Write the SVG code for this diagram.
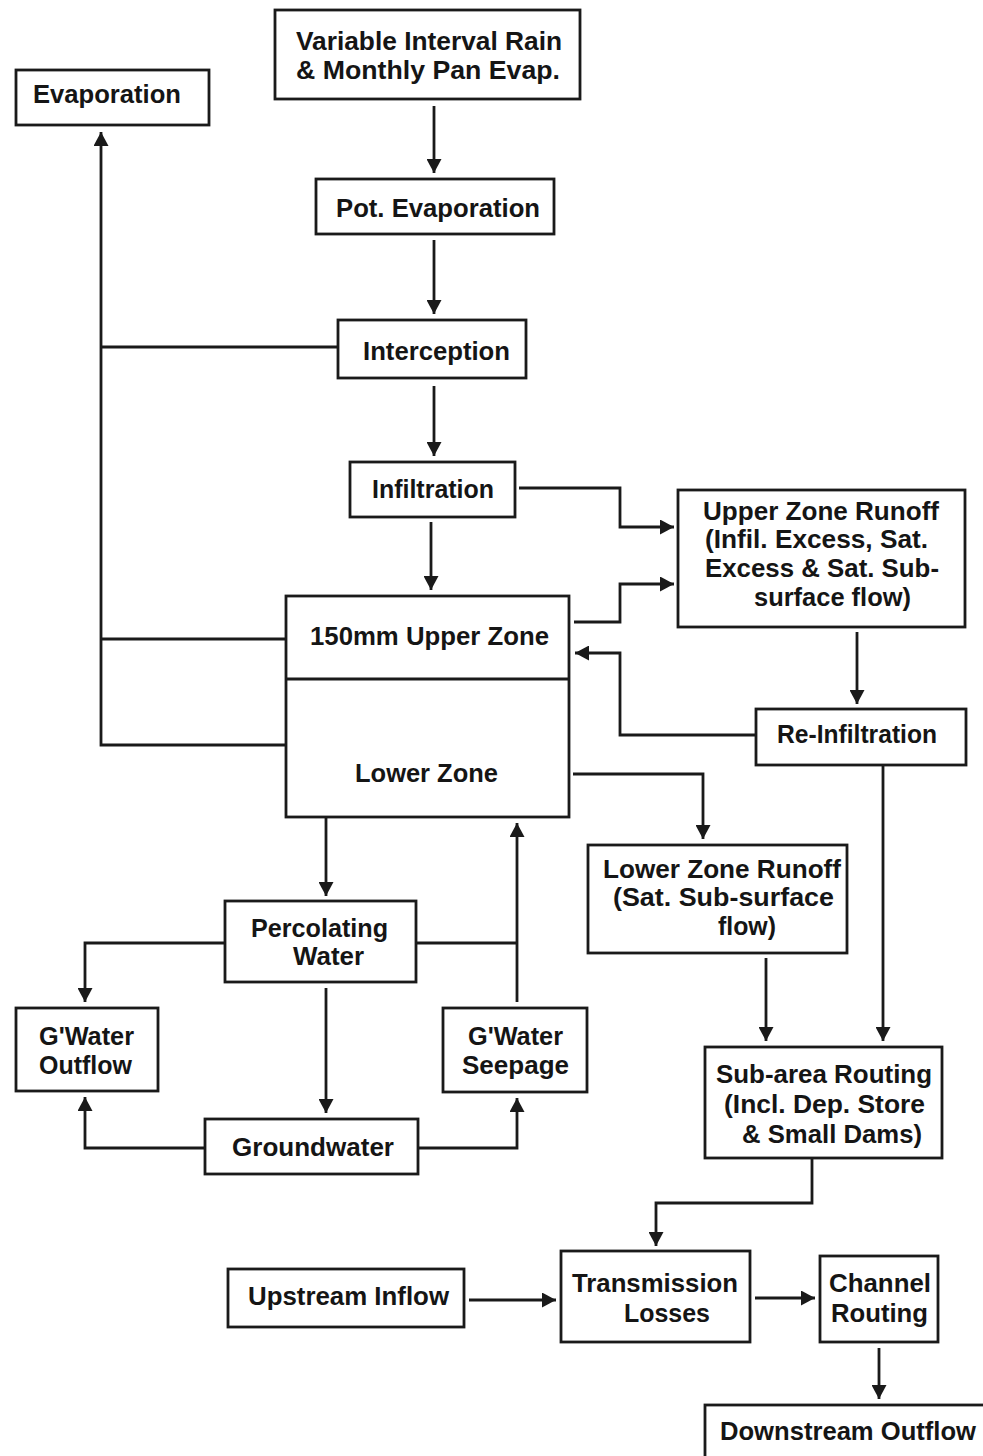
<svg xmlns="http://www.w3.org/2000/svg" width="983" height="1456" viewBox="0 0 983 1456">
<style>
.b{fill:#fff;stroke:#1a1a1a;stroke-width:2.8}
.c{fill:none;stroke:#1a1a1a;stroke-width:2.8}
.a{marker-end:url(#ah)}
text{font-family:"Liberation Sans",Arial,sans-serif;font-weight:bold;font-size:26px;fill:#151515}
</style>
<defs>
<marker id="ah" markerUnits="userSpaceOnUse" markerWidth="14" markerHeight="15" refX="14" refY="7.5" orient="auto">
<path d="M0,0 L14,7.5 L0,15 z" fill="#1a1a1a"/>
</marker>
</defs>
<rect width="983" height="1456" fill="#fff"/>
<g id="connectors">
<path class="c a" d="M434,106 V173"/>
<path class="c a" d="M434,240 V314"/>
<path class="c a" d="M434,386 V456"/>
<path class="c a" d="M431,522 V590"/>
<path class="c" d="M337,347 H101"/>
<path class="c" d="M285,639 H101"/>
<path class="c a" d="M285,745 H101 V132"/>
<path class="c a" d="M519,488 H620 V527 H674"/>
<path class="c a" d="M574,622 H620 V584 H674"/>
<path class="c a" d="M857,632 V704"/>
<path class="c a" d="M756,735 H620 V653 H575"/>
<path class="c a" d="M345,667 V718"/>
<path class="c a" d="M429,667 V718"/>
<path class="c a" d="M508,667 V718"/>
<path class="c a" d="M573,774 H703 V839"/>
<path class="c a" d="M883,765 V1041"/>
<path class="c a" d="M766,958 V1041"/>
<path class="c a" d="M326,817 V896"/>
<path class="c a" d="M225,943 H85 V1002"/>
<path class="c" d="M416,943 H517"/>
<path class="c a" d="M517,1002 V823"/>
<path class="c a" d="M326,988 V1113"/>
<path class="c a" d="M205,1148 H85 V1097"/>
<path class="c a" d="M418,1148 H517 V1098"/>
<path class="c a" d="M812,1158 V1203 H656 V1246"/>
<path class="c a" d="M469,1300 H556"/>
<path class="c a" d="M755,1298 H815"/>
<path class="c a" d="M879,1348 V1399"/>
</g>
<g id="evaporation"><rect class="b" x="16" y="70" width="193" height="55"/><text x="33" y="103" textLength="148" lengthAdjust="spacingAndGlyphs">Evaporation</text></g>
<g id="rain"><rect class="b" x="275" y="10" width="305" height="89"/><text x="296" y="50" textLength="266" lengthAdjust="spacingAndGlyphs">Variable Interval Rain</text><text x="296" y="79" textLength="264" lengthAdjust="spacingAndGlyphs">&amp; Monthly Pan Evap.</text></g>
<g id="pot-evaporation"><rect class="b" x="316" y="179" width="238" height="55"/><text x="336" y="217" textLength="204" lengthAdjust="spacingAndGlyphs">Pot. Evaporation</text></g>
<g id="interception"><rect class="b" x="338" y="320" width="188" height="58"/><text x="363" y="360" textLength="147" lengthAdjust="spacingAndGlyphs">Interception</text></g>
<g id="infiltration"><rect class="b" x="350" y="462" width="165" height="55"/><text x="372" y="498" textLength="122" lengthAdjust="spacingAndGlyphs">Infiltration</text></g>
<g id="upper-zone-runoff"><rect class="b" x="678" y="490" width="287" height="137"/><text x="703" y="520" textLength="236" lengthAdjust="spacingAndGlyphs">Upper Zone Runoff</text><text x="705" y="548" textLength="223" lengthAdjust="spacingAndGlyphs">(Infil. Excess, Sat.</text><text x="705" y="577" textLength="234" lengthAdjust="spacingAndGlyphs">Excess &amp; Sat. Sub-</text><text x="754" y="606" textLength="157" lengthAdjust="spacingAndGlyphs">surface flow)</text></g>
<g id="soil-zones"><rect class="b" x="286" y="596" width="283" height="221"/><path class="c" d="M286,679 H569"/><text x="310" y="645" textLength="239" lengthAdjust="spacingAndGlyphs">150mm Upper Zone</text><text x="355" y="782" textLength="143" lengthAdjust="spacingAndGlyphs">Lower Zone</text></g>
<g id="re-infiltration"><rect class="b" x="756" y="709" width="210" height="56"/><text x="777" y="743" textLength="160" lengthAdjust="spacingAndGlyphs">Re-Infiltration</text></g>
<g id="lower-zone-runoff"><rect class="b" x="588" y="845" width="259" height="108"/><text x="603" y="878" textLength="238" lengthAdjust="spacingAndGlyphs">Lower Zone Runoff</text><text x="613" y="906" textLength="221" lengthAdjust="spacingAndGlyphs">(Sat. Sub-surface</text><text x="718" y="935" textLength="58" lengthAdjust="spacingAndGlyphs">flow)</text></g>
<g id="percolating-water"><rect class="b" x="225" y="901" width="191" height="81"/><text x="251" y="937" textLength="137" lengthAdjust="spacingAndGlyphs">Percolating</text><text x="293" y="965" textLength="71" lengthAdjust="spacingAndGlyphs">Water</text></g>
<g id="gwater-outflow"><rect class="b" x="16" y="1008" width="142" height="83"/><text x="39" y="1045" textLength="95" lengthAdjust="spacingAndGlyphs">G'Water</text><text x="39" y="1074" textLength="93" lengthAdjust="spacingAndGlyphs">Outflow</text></g>
<g id="gwater-seepage"><rect class="b" x="443" y="1008" width="144" height="84"/><text x="468" y="1045" textLength="95" lengthAdjust="spacingAndGlyphs">G'Water</text><text x="462" y="1074" textLength="107" lengthAdjust="spacingAndGlyphs">Seepage</text></g>
<g id="groundwater"><rect class="b" x="205" y="1119" width="213" height="55"/><text x="232" y="1156" textLength="162" lengthAdjust="spacingAndGlyphs">Groundwater</text></g>
<g id="sub-area-routing"><rect class="b" x="705" y="1047" width="237" height="111"/><text x="716" y="1083" textLength="216" lengthAdjust="spacingAndGlyphs">Sub-area Routing</text><text x="724" y="1113" textLength="201" lengthAdjust="spacingAndGlyphs">(Incl. Dep. Store</text><text x="742" y="1143" textLength="180" lengthAdjust="spacingAndGlyphs">&amp; Small Dams)</text></g>
<g id="upstream-inflow"><rect class="b" x="228" y="1269" width="236" height="58"/><text x="248" y="1305" textLength="201" lengthAdjust="spacingAndGlyphs">Upstream Inflow</text></g>
<g id="transmission-losses"><rect class="b" x="561" y="1251" width="189" height="91"/><text x="572" y="1292" textLength="166" lengthAdjust="spacingAndGlyphs">Transmission</text><text x="624" y="1322" textLength="86" lengthAdjust="spacingAndGlyphs">Losses</text></g>
<g id="channel-routing"><rect class="b" x="820" y="1256" width="118" height="86"/><text x="829" y="1292" textLength="102" lengthAdjust="spacingAndGlyphs">Channel</text><text x="831" y="1322" textLength="97" lengthAdjust="spacingAndGlyphs">Routing</text></g>
<g id="downstream-outflow"><rect class="b" x="705" y="1405" width="290" height="70"/><text x="720" y="1440" textLength="256" lengthAdjust="spacingAndGlyphs">Downstream Outflow</text></g>
</svg>
